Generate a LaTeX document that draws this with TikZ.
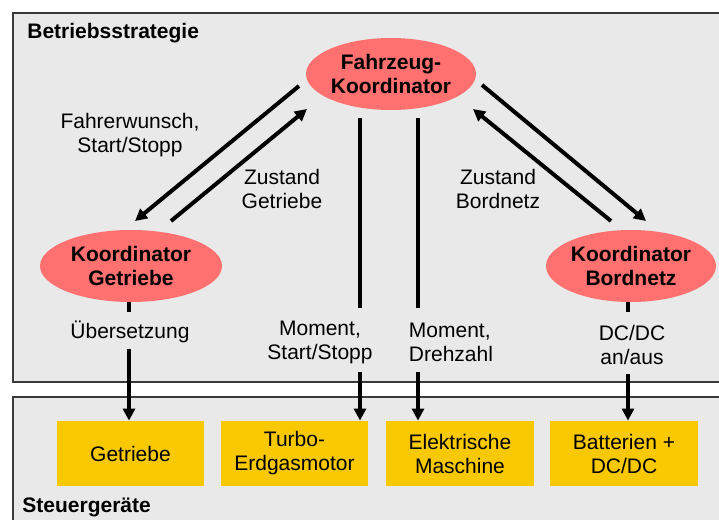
\documentclass[tikz,border=0pt]{standalone}
\usepackage{fontspec}
\setmainfont{Liberation Sans}
\usetikzlibrary{shapes.geometric,arrows.meta,calc}
\definecolor{bg}{HTML}{E9E9E9}
\definecolor{ell}{HTML}{FF7070}
\definecolor{ylw}{HTML}{F8C800}
\definecolor{frame}{HTML}{3A3A3A}
\begin{document}
\begin{tikzpicture}[x=0.5pt,y=-0.5pt,
 font=\fontsize{10.5}{12}\selectfont,
 coord/.style={ellipse,fill=ell,inner sep=0pt,minimum height=36pt,font=\fontsize{10.5}{12}\selectfont\bfseries,align=center},
 ecu/.style={rectangle,fill=ylw,inner sep=0pt,minimum width=73.5pt,minimum height=32.5pt,align=center},
 lbl/.style={align=center,inner sep=0pt},
 title/.style={anchor=west,inner sep=0pt,font=\fontsize{10.5}{12}\selectfont\bfseries},
 frm/.style={draw=frame,line width=0.75pt,fill=bg},
 link/.style={line width=2pt},
 arr/.style={line width=2pt,-{Triangle[length=6pt,width=6pt]}},
]
\useasboundingbox (0,0) rectangle (719,520);
\clip (0,0) rectangle (719,520);
\path[frm] (13,13) rectangle (740,382);
\path[frm] (13,397) rectangle (740,540);

\node[title] (t1) at (27,33) {Betriebsstrategie};
\node[title] (t2) at (22,507) {Steuergeräte};

\node[coord,minimum width=84pt] (FK) at (391,74) {Fahrzeug-\\Koordinator};
\node[coord,minimum width=91pt] (KG) at (131,266) {Koordinator\\Getriebe};
\node[coord,minimum width=84pt] (KB) at (631,266) {Koordinator\\Bordnetz};

\node[ecu] (G) at (130.5,453.5) {Getriebe};
\node[ecu] (T) at (294.5,453.5) {Turbo-\\Erdgasmotor};
\node[ecu,minimum width=74pt] (E) at (460,453.5) {Elektrische\\Maschine};
\node[ecu,minimum width=74pt] (B) at (624,453.5) {Batterien +\\DC/DC};

\node[lbl] (l1) at (130,135) {Fahrerwunsch,\\Start/Stopp};
\node[lbl] (l2) at (282,189) {Zustand\\Getriebe};
\node[lbl] (l3) at (498,189) {Zustand\\Bordnetz};
\node[lbl] (l4) at (130,332) {Übersetzung};
\node[lbl] (l5) at (320,342) {Moment,\\Start/Stopp};
\node[lbl,align=left] (l6) at (451,342) {Moment,\\Drehzahl};
\node[lbl] (l7) at (632,345) {DC/DC\\an/aus};

% diagonal arrows
\draw[arr] ($(FK)+(-92,12)$) -- ($(KG)+(4,-45)$);
\draw[arr] ($(KG)+(40,-45)$) -- ($(FK)+(-84,35)$);
\draw[arr] ($(FK)+(91,11)$) -- ($(KB)+(15,-45)$);
\draw[arr] ($(KB)+(-20,-45)$) -- ($(FK)+(82,35)$);

% vertical links from Fahrzeug-Koordinator
\draw[link] ($(FK)+(-31,44)$) -- ($(FK)+(-31,234)$);
\coordinate (m1) at ($(FK)+(-31,298)$);
\draw[arr] (m1) -- (m1 |- T.north);
\draw[link] ($(FK)+(27,44)$) -- ($(FK)+(27,234)$);
\coordinate (m2) at ($(FK)+(27,298)$);
\draw[arr] (m2) -- (m2 |- E.north);

% Koordinator Getriebe
\draw[link] ($(KG.south)+(-2,0)$) -- ++(0,10);
\coordinate (g1) at ($(KG)+(-2,83)$);
\draw[arr] (g1) -- (g1 |- G.north);

% Koordinator Bordnetz
\draw[link] ($(KB.south)+(-3,0)$) -- ++(0,10);
\coordinate (b1) at ($(KB)+(-3,108)$);
\draw[arr] (b1) -- (b1 |- B.north);
\end{tikzpicture}
\end{document}
